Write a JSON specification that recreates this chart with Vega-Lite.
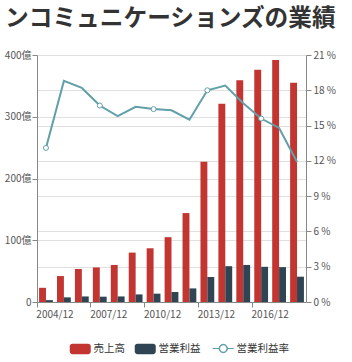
{
  "$schema": "https://vega.github.io/schema/vega-lite/v6.json",
  "width": 269,
  "height": 247,
  "autosize": {"type": "none"},
  "padding": {"left": 37, "top": 55, "right": 46, "bottom": 60},
  "config": {"view": {"stroke": null}, "font": "Noto Sans CJK JP"},
  "title": {"text": "ンコミュニケーションズの業績", "anchor": "start", "frame": "group", "dx": -32, "offset": 19, "fontSize": 23.7, "fontWeight": "bold", "color": "#333333", "font": "Noto Sans CJK JP"},
  "data": {"values": [
    {"year": "2004/12", "series": "売上高", "value": 23}, {"year": "2004/12", "series": "営業利益", "value": 3}, {"year": "2004/12", "series": "営業利益率", "value": 13.1},
    {"year": "2005/12", "series": "売上高", "value": 42}, {"year": "2005/12", "series": "営業利益", "value": 7.5}, {"year": "2005/12", "series": "営業利益率", "value": 18.8},
    {"year": "2006/12", "series": "売上高", "value": 53.5}, {"year": "2006/12", "series": "営業利益", "value": 9}, {"year": "2006/12", "series": "営業利益率", "value": 18.2},
    {"year": "2007/12", "series": "売上高", "value": 56}, {"year": "2007/12", "series": "営業利益", "value": 8.6}, {"year": "2007/12", "series": "営業利益率", "value": 16.7},
    {"year": "2008/12", "series": "売上高", "value": 60}, {"year": "2008/12", "series": "営業利益", "value": 9}, {"year": "2008/12", "series": "営業利益率", "value": 15.8},
    {"year": "2009/12", "series": "売上高", "value": 80}, {"year": "2009/12", "series": "営業利益", "value": 12.3}, {"year": "2009/12", "series": "営業利益率", "value": 16.6},
    {"year": "2010/12", "series": "売上高", "value": 87}, {"year": "2010/12", "series": "営業利益", "value": 13.5}, {"year": "2010/12", "series": "営業利益率", "value": 16.4},
    {"year": "2011/12", "series": "売上高", "value": 105}, {"year": "2011/12", "series": "営業利益", "value": 16.2}, {"year": "2011/12", "series": "営業利益率", "value": 16.3},
    {"year": "2012/12", "series": "売上高", "value": 144}, {"year": "2012/12", "series": "営業利益", "value": 22}, {"year": "2012/12", "series": "営業利益率", "value": 15.5},
    {"year": "2013/12", "series": "売上高", "value": 227}, {"year": "2013/12", "series": "営業利益", "value": 40.5}, {"year": "2013/12", "series": "営業利益率", "value": 18.0},
    {"year": "2014/12", "series": "売上高", "value": 321}, {"year": "2014/12", "series": "営業利益", "value": 58}, {"year": "2014/12", "series": "営業利益率", "value": 18.4},
    {"year": "2015/12", "series": "売上高", "value": 359}, {"year": "2015/12", "series": "営業利益", "value": 60}, {"year": "2015/12", "series": "営業利益率", "value": 16.9},
    {"year": "2016/12", "series": "売上高", "value": 376}, {"year": "2016/12", "series": "営業利益", "value": 57}, {"year": "2016/12", "series": "営業利益率", "value": 15.6},
    {"year": "2017/12", "series": "売上高", "value": 392}, {"year": "2017/12", "series": "営業利益", "value": 56.5}, {"year": "2017/12", "series": "営業利益率", "value": 14.8},
    {"year": "2018/12", "series": "売上高", "value": 355}, {"year": "2018/12", "series": "営業利益", "value": 41}, {"year": "2018/12", "series": "営業利益率", "value": 11.9}
  ]},
  "encoding": {
    "x": {
      "field": "year", "type": "nominal", "sort": null,
      "scale": {"paddingInner": 0, "paddingOuter": 0},
      "axis": {
        "title": null, "values": ["2004/12", "2007/12", "2010/12", "2013/12", "2016/12"],
        "bandPosition": 0, "labelOffset": 9, "labelAngle": 0, "labelOverlap": false,
        "labelFontSize": 10, "labelColor": "#555555", "labelPadding": 2,
        "domainColor": "#888888", "tickColor": "#888888", "tickSize": 5, "grid": false
      }
    }
  },
  "layer": [
    {
      "transform": [{"filter": "datum.series !== '営業利益率'"}],
      "mark": {"type": "bar"},
      "encoding": {
        "xOffset": {"field": "series", "type": "nominal", "sort": null, "scale": {"domain": ["売上高", "営業利益"], "paddingInner": 0, "paddingOuter": 0.3}},
        "y": {
          "field": "value", "type": "quantitative",
          "scale": {"domain": [0, 400], "nice": false},
          "axis": {
            "orient": "left", "title": null, "values": [0, 100, 200, 300, 400],
            "labelExpr": "datum.value === 0 ? '0' : datum.value + '億'",
            "grid": true, "gridColor": "#e0e0e0", "domainColor": "#888888", "tickColor": "#888888",
            "tickSize": 5, "labelFontSize": 10, "labelColor": "#555555", "labelPadding": 1
          }
        },
        "color": {
          "field": "series", "type": "nominal", "sort": null,
          "scale": {"domain": ["売上高", "営業利益", "営業利益率"], "range": ["#c23531", "#2f4554", "#61a0a8"]},
          "legend": {
            "title": null, "orient": "none", "legendX": 38, "legendY": 288, "direction": "horizontal",
            "padding": 0, "columnPadding": 9, "labelOffset": 8, "symbolSize": 441,
            "labelFontSize": 10.5, "labelColor": "#333333",
            "encode": {
              "symbols": {
                "update": {
                  "shape": {"signal": "datum.value === '営業利益率' ? 'M-1,0 H-0.4 M0.4,0 H1 M0.4,0 A0.4,0.4 0 1 1 -0.4,0 A0.4,0.4 0 1 1 0.4,0 Z M0.35,0 A0.35,0.35 0 1 0 -0.35,0 A0.35,0.35 0 1 0 0.35,0 Z' : 'M-0.75,-0.5 H0.75 A0.25,0.25 0 0 1 1,-0.25 V0.25 A0.25,0.25 0 0 1 0.75,0.5 H-0.75 A0.25,0.25 0 0 1 -1,0.25 V-0.25 A0.25,0.25 0 0 1 -0.75,-0.5 Z'"},
                  "fill": {"signal": "scale('color', datum.value)"},
                  "stroke": {"signal": "scale('color', datum.value)"},
                  "strokeWidth": {"signal": "datum.value === '営業利益率' ? 1 : 0"},
                  "opacity": {"value": 1}
                }
              }
            }
          }
        }
      }
    },
    {
      "transform": [{"filter": "datum.series === '営業利益率'"}],
      "mark": {"type": "line", "strokeWidth": 2},
      "encoding": {
        "y": {
          "field": "value", "type": "quantitative",
          "scale": {"domain": [0, 21], "nice": false},
          "axis": {
            "orient": "right", "title": null, "values": [0, 3, 6, 9, 12, 15, 18, 21],
            "labelExpr": "datum.value + ' %'",
            "grid": true, "gridColor": "#e0e0e0", "domainColor": "#888888", "tickColor": "#888888",
            "tickSize": 5, "labelFontSize": 10, "labelColor": "#555555", "labelPadding": 2
          }
        },
        "color": {"field": "series", "type": "nominal", "sort": null}
      }
    },
    {
      "transform": [{"filter": "datum.series === '営業利益率' && indexof(['2004/12','2007/12','2010/12','2013/12','2016/12'], datum.year) >= 0"}],
      "mark": {"type": "point", "filled": false, "fill": "#ffffff", "fillOpacity": 1, "stroke": "#61a0a8", "strokeWidth": 1, "size": 25, "opacity": 1},
      "encoding": {
        "y": {"field": "value", "type": "quantitative", "scale": {"domain": [0, 21], "nice": false}, "axis": null}
      }
    }
  ],
  "resolve": {"scale": {"y": "independent"}}
}
